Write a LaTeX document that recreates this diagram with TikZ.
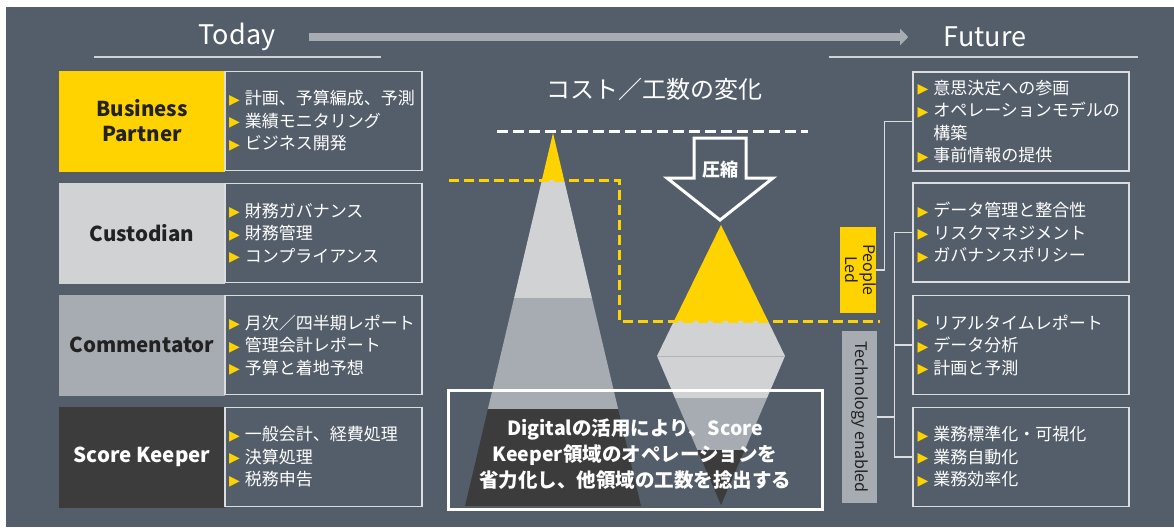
\documentclass[tikz,border=0pt]{standalone}
\usepackage{fontspec}
\usepackage{graphicx}
\setmainfont{Noto Sans CJK JP}
\newfontfamily\symf{DejaVu Sans}
\usetikzlibrary{calc,arrows.meta}
\definecolor{bg}{HTML}{545E6A}
\definecolor{eyy}{HTML}{FFD300}
\definecolor{lg}{HTML}{D1D2D4}
\definecolor{mg}{HTML}{A7ACB2}
\definecolor{dk}{HTML}{3C3C3C}
\definecolor{ol}{HTML}{DADCDF}
\definecolor{txd}{HTML}{222222}
\newcommand{\bl}{\raisebox{0.5pt}{\symf\fontsize{14}{14}\selectfont\textcolor{eyy}{▶}}\hspace{5pt}}
\newcommand{\blsp}{\phantom{\bl}}
\tikzset{
  lab/.style={minimum width=166pt, minimum height=101pt, inner sep=0pt, font=\fontsize{20.5}{25}\selectfont\bfseries, align=center, text=txd},
  lbox/.style={draw=ol, line width=1.3pt, minimum width=197pt, minimum height=99pt, text width=189pt, inner xsep=4pt, inner ysep=0pt, align=left, text=white, font=\fontsize{17}{22.5}\selectfont},
  rbox/.style={draw=ol, line width=1.3pt, minimum width=216pt, minimum height=99pt, text width=207pt, inner xsep=4.5pt, inner ysep=0pt, align=left, text=white, font=\fontsize{17}{22.5}\selectfont},
  conn/.style={draw=ol, line width=1.3pt},
  head/.style={text=white, font=\fontsize{27}{27}\selectfont},
}
\begin{document}
\begin{tikzpicture}[x=1pt,y=-1pt]
\useasboundingbox (0,0) rectangle (1174,527);
\fill[white] (0,0) rectangle (1174,527);
\fill[bg] (6,7) rectangle (1174,527);

% headings
\node[head] (today) at (237,37) {Today};
\node[head] (future) at (985,37) {Future};
\draw[mg, line width=8pt, -{Triangle[length=8pt,width=16pt]}, shorten <=30pt, shorten >=32pt] (today) -- (future);
\draw[lg, line width=2pt] (94,57) -- (381,57);
\draw[lg, line width=2pt] (829,57) -- (1138,57);

% left column
\node[lab, fill=eyy] (bp) at (142,121) {Business\\Partner};
\node[lab, fill=lg] (cu) at (142,233) {Custodian};
\node[lab, fill=mg] (co) at (142,345) {Commentator};
\node[lab, fill=dk, text=white] (sk) at (142,457) {Score Keeper};

\node[lbox] (l1) at (323.5,121) {\bl 計画、予算編成、予測\\\bl 業績モニタリング\\\bl ビジネス開発};
\node[lbox] (l2) at (323.5,233) {\bl 財務ガバナンス\\\bl 財務管理\\\bl コンプライアンス};
\node[lbox] (l3) at (323.5,345) {\bl 月次／四半期レポート\\\bl 管理会計レポート\\\bl 予算と着地予想};
\node[lbox] (l4) at (323.5,457) {\bl 一般会計、経費処理\\\bl 決算処理\\\bl 税務申告};

% centre title
\node[text=white, font=\fontsize{24}{24}\selectfont] (title) at (654,89) {コスト／工数の変化};
\draw[white, line width=3pt, dash pattern=on 11pt off 5pt] (497,131) -- (808,131);

% left pyramid
\fill[eyy] (553,133) -- (564.1,180) -- (541.9,180) -- cycle;
\fill[lg] (541.9,180) -- (564.1,180) -- (591.9,298) -- (514.1,298) -- cycle;
\fill[mg] (514.1,298) -- (591.9,298) -- (618.1,409) -- (487.9,409) -- cycle;
\fill[dk] (487.9,409) -- (618.1,409) -- (641,506) -- (465,506) -- cycle;

% right diamond
\fill[eyy] (721,225) -- (768,321) -- (674,321) -- cycle;
\fill[lg] (674,321) -- (768,321) -- (785,356) -- (657,356) -- cycle;
\fill[lg] (657,356) -- (785,356) -- (767,398) -- (675,398) -- cycle;
\fill[mg] (675,398) -- (767,398) -- (744.6,450) -- (697.4,450) -- cycle;
\fill[dk] (697.4,450) -- (744.6,450) -- (721,505) -- cycle;
\draw[mg!80!lg, line width=1pt] (657,356) -- (785,356);

% compress arrow
\draw[white, line width=3pt, fill=bg, line join=miter] (694,138) -- (746,138) -- (746,178) -- (773,178) -- (720,220) -- (667,178) -- (694,178) -- cycle;
\node[text=white, font=\fontsize{18}{18}\selectfont\bfseries] (comp) at (720,170) {圧縮};

% yellow dashed boundary
\draw[eyy, line width=3pt, dash pattern=on 10pt off 5pt] (449,180) -- (619,180) -- (619,321) -- (880,321);

% message box
\node[draw=white, line width=3pt, minimum width=374pt, minimum height=119pt, align=center, text=white, font=\fontsize{19.5}{26}\selectfont\bfseries] (msg) at (635,449.5) {\rule{0pt}{25pt}Digitalの活用により、Score\\Keeper領域のオペレーションを\\省力化し、他領域の工数を捻出する};

% side labels
\node[fill=eyy, minimum width=36pt, minimum height=86pt, inner sep=0pt, text=txd, font=\fontsize{16}{17}\selectfont] (pl) at (858,270) {\rotatebox{-90}{\begin{tabular}{@{}c@{}}People\\Led\end{tabular}}};
\node[fill=mg, minimum width=35pt, minimum height=172pt, inner sep=0pt, text=txd, font=\fontsize{16}{17}\selectfont] (te) at (859.5,417) {\rotatebox{-90}{Technology enabled}};

% right column
\node[rbox] (f1) at (1021,121.5) {\bl 意思決定への参画\\\bl オペレーションモデルの\\\blsp 構築\\\bl 事前情報の提供};
\node[rbox] (f2) at (1021,232.5) {\bl データ管理と整合性\\\bl リスクマネジメント\\\bl ガバナンスポリシー};
\node[rbox] (f3) at (1021,345) {\bl リアルタイムレポート\\\bl データ分析\\\bl 計画と予測};
\node[rbox] (f4) at (1021,457) {\bl 業務標準化・可視化\\\bl 業務自動化\\\bl 業務効率化};

% connectors
\draw[conn] (pl.east) -- ++(8,0) |- (f1.west);
\draw[conn] (te.east) -- ++(17,0) coordinate (tj);
\draw[conn] (tj |- f2.west) -- (tj |- f4.west);
\draw[conn] (tj |- f2.west) -- (f2.west);
\draw[conn] (tj |- f3.west) -- (f3.west);
\draw[conn] (tj |- f4.west) -- (f4.west);
\end{tikzpicture}
\end{document}
